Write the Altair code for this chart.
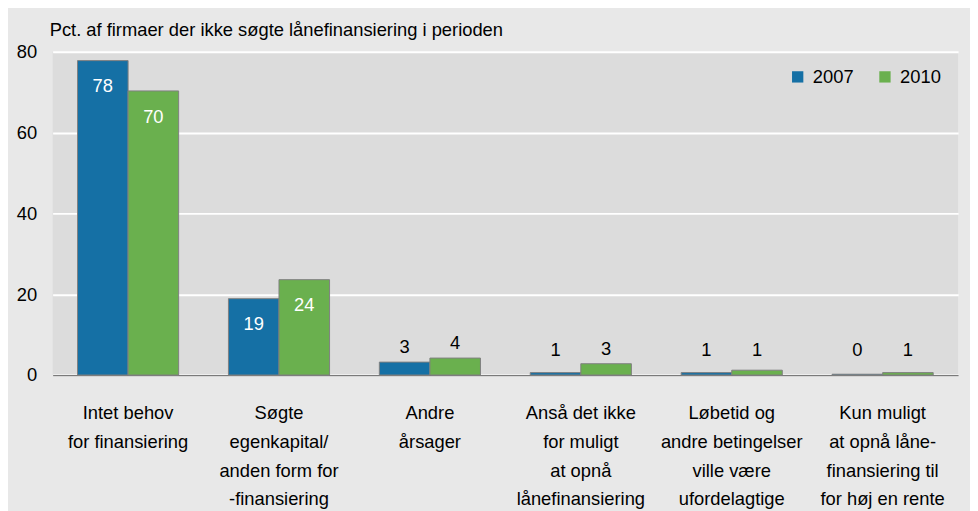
import altair as alt
import pandas as pd

categories = [
    "Intet behov|for finansiering",
    "Søgte|egenkapital/|anden form for|-finansiering",
    "Andre|årsager",
    "Anså det ikke|for muligt|at opnå|lånefinansiering",
    "Løbetid og|andre betingelser|ville være|ufordelagtige",
    "Kun muligt|at opnå låne-|finansiering til|for høj en rente",
]
values_2007 = [77.8, 18.9, 3.2, 0.6, 0.6, 0.2]
values_2010 = [70.3, 23.6, 4.2, 2.8, 1.2, 0.6]
years = ["2007", "2010"]
colors = ["#1570A5", "#6AB04E"]

rows = []
for c, a, b in zip(categories, values_2007, values_2010):
    rows.append({"cat": c, "year": "2007", "v": a})
    rows.append({"cat": c, "year": "2010", "v": b})
df = pd.DataFrame(rows)

FONT = "Liberation Sans, Arial, sans-serif"
FS = 18.5

x = alt.X("cat:N", sort=categories, title=None,
          scale=alt.Scale(paddingInner=0.33, paddingOuter=0.165),
          axis=alt.Axis(labelAngle=0, labelExpr="split(datum.label, '|')",
                        labelLineHeight=29, labelPadding=38, labelFontSize=FS,
                        labelColor="#000", ticks=False, domainColor="#7a7a7a",
                        domainWidth=1.2, labelFont=FONT, labelBaseline="middle"))
y = alt.Y("v:Q", title=None,
          scale=alt.Scale(domain=[0, 80]),
          axis=alt.Axis(values=[0, 20, 40, 60, 80], domain=False, ticks=False,
                        gridColor="white", gridWidth=2, labelFontSize=FS,
                        labelColor="#000", labelPadding=16, labelFont=FONT))
xo = alt.XOffset("year:N", sort=years)

bars = alt.Chart(df).mark_bar(stroke="#7f7f7f", strokeWidth=1).encode(
    x=x, y=y, xOffset=xo,
    color=alt.Color("year:N", sort=years,
                    scale=alt.Scale(domain=years, range=colors),
                    legend=alt.Legend(title=None, orient="none", legendX=742, legendY=16,
                                      direction="horizontal", symbolType="square",
                                      symbolSize=130, symbolStrokeWidth=0,
                                      labelFontSize=FS, labelFont=FONT,
                                      columnPadding=22, labelOffset=6)),
)

inside = alt.Chart(df).transform_filter("datum.v > 10").mark_text(
    color="white", fontSize=FS, font=FONT, baseline="middle", dy=26
).encode(x=x, y=y, xOffset=xo, text=alt.Text("v:Q", format=".0f"))

outside = alt.Chart(df).transform_filter("datum.v <= 10").transform_calculate(
    ly="max(datum.v, 2.5)"
).mark_text(color="black", fontSize=FS, font=FONT, baseline="middle", dy=-15).encode(
    x=x, y=alt.Y("ly:Q", scale=alt.Scale(domain=[0, 80])), xOffset=xo,
    text=alt.Text("v:Q", format=".0f"))

chart = alt.layer(bars, inside, outside).properties(
    width=913, height=326,
    autosize=alt.AutoSizeParams(type="none"),
    padding={"left": 45, "top": 42, "right": 12, "bottom": 135},
    background="#E8E8E8",
    title=alt.Title("Pct. af firmaer der ikke søgte lånefinansiering i perioden",
                    anchor="start", frame="group", fontSize=FS, fontWeight="normal",
                    font=FONT, color="#000", dx=-3, offset=3),
).configure_view(fill="#DCDCDC", stroke=None)

chart.save("out.html", embed_options={"renderer": "svg", "actions": False})
